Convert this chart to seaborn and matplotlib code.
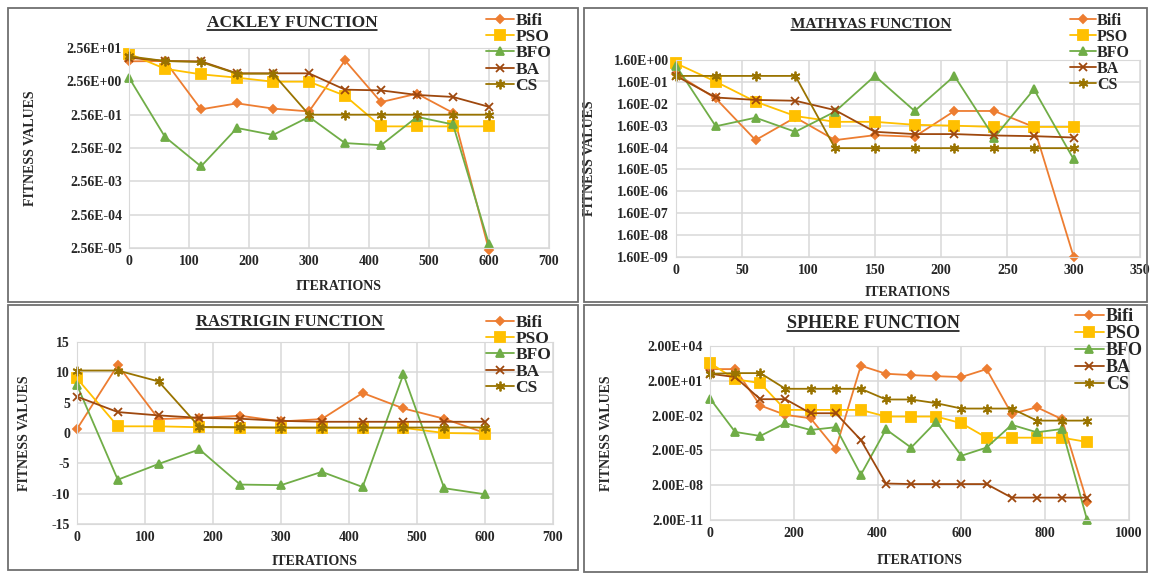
import matplotlib
matplotlib.use("Agg")
import matplotlib.pyplot as plt
import seaborn as sns
import numpy as np
from matplotlib.patches import Rectangle
from matplotlib.lines import Line2D
from matplotlib.ticker import FixedLocator, FixedFormatter, NullLocator

W, H = 1150, 574

algos = ['Bifi', 'PSO', 'BFO', 'BA', 'CS']
colors = ['#ED7D31', '#FFC000', '#70AD47', '#9E480E', '#997300']
markers = ['D', 's', '^', 'x', (6, 2, 0)]
msizes = [4.5, 6.5, 6, 6, 7]

# ---- Ackley ----
ackley_iter = [0, 60, 120, 180, 240, 300, 360, 420, 480, 540, 600]
ackley_bifi = [10.2, 10.4, 0.37, 0.56, 0.39, 0.32, 10.9, 0.61, 1.09, 0.29, 2.2e-5]
ackley_pso = [17.3, 6.1, 4.15, 3.3, 2.5, 2.5, 0.95, 0.114, 0.114, 0.114, 0.114]
ackley_bfo = [3.3, 0.055, 0.0072, 0.102, 0.063, 0.22, 0.036, 0.031, 0.22, 0.13, 3.3e-5]
ackley_ba = [13.1, 10.4, 10.2, 4.45, 4.45, 4.45, 1.44, 1.37, 1.0, 0.87, 0.44]
ackley_cs = [14.4, 10.4, 9.7, 4.35, 4.35, 0.256, 0.256, 0.256, 0.256, 0.256, 0.256]
ackley_yticks = [2.56e-5, 2.56e-4, 2.56e-3, 2.56e-2, 2.56e-1, 2.56e0, 2.56e1]
ackley_ylabels = ['2.56E-05', '2.56E-04', '2.56E-03', '2.56E-02', '2.56E-01', '2.56E+00', '2.56E+01']

# ---- Mathyas ----
mathyas_iter = [0, 30, 60, 90, 120, 150, 180, 210, 240, 270, 300]
mathyas_bifi = [0.37, 0.028, 3.5e-4, 3.8e-3, 3.5e-4, 5.9e-4, 5.0e-4, 7.5e-3, 7.5e-3, 1.4e-3, 1.6e-9]
mathyas_pso = [1.13, 0.164, 0.02, 4.4e-3, 2.4e-3, 2.4e-3, 1.75e-3, 1.6e-3, 1.4e-3, 1.4e-3, 1.4e-3]
mathyas_bfo = [0.88, 1.5e-3, 3.7e-3, 8.4e-4, 7e-3, 0.3, 7.5e-3, 0.3, 4.6e-4, 0.073, 4.6e-5]
mathyas_ba = [0.3, 0.031, 0.024, 0.022, 8.2e-3, 8.4e-4, 6.6e-4, 6.6e-4, 5.7e-4, 5.3e-4, 4.6e-4]
mathyas_cs = [0.3, 0.3, 0.3, 0.3, 1.5e-4, 1.5e-4, 1.5e-4, 1.5e-4, 1.5e-4, 1.5e-4, 1.5e-4]
mathyas_yticks = [1.6e-9, 1.6e-8, 1.6e-7, 1.6e-6, 1.6e-5, 1.6e-4, 1.6e-3, 1.6e-2, 1.6e-1, 1.6e0]
mathyas_ylabels = ['1.60E-09', '1.60E-08', '1.60E-07', '1.60E-06', '1.60E-05',
                   '1.60E-04', '1.60E-03', '1.60E-02', '1.60E-01', '1.60E+00']

# ---- Rastrigin ----
rastrigin_iter = [0, 60, 120, 180, 240, 300, 360, 420, 480, 540, 600]
rastrigin_bifi = [0.66, 11.2, 2.3, 2.5, 2.85, 1.9, 2.3, 6.6, 4.05, 2.35, 0.0]
rastrigin_pso = [9.0, 1.1, 1.1, 0.95, 0.9, 0.85, 0.85, 0.85, 0.85, 0.0, -0.1]
rastrigin_bfo = [7.9, -7.7, -5.1, -2.7, -8.5, -8.6, -6.4, -8.9, 9.7, -9.1, -10.1]
rastrigin_ba = [6.0, 3.45, 2.9, 2.5, 2.35, 2.0, 1.85, 1.85, 1.85, 1.85, 1.85]
rastrigin_cs = [10.3, 10.3, 8.5, 1.0, 0.95, 0.9, 0.9, 0.9, 0.9, 0.9, 0.9]
rastrigin_yticks = [-15, -10, -5, 0, 5, 10, 15]
rastrigin_ylabels = ['-15', '-10', '-5', '0', '5', '10', '15']

# ---- Sphere ----
sphere_iter = [0, 60, 120, 180, 240, 300, 360, 420, 480, 540, 600, 660, 720, 780, 840, 900]
sphere_bifi = [204, 204, 0.148, 0.023, 0.0118, 2.6e-5, 400, 81, 62, 50, 42, 204, 0.028, 0.105, 0.0098, 7.4e-10]
sphere_pso = [676, 27.6, 12.6, 0.062, 0.062, 0.062, 0.062, 0.0166, 0.0166, 0.0166, 0.0044,
              2.5e-4, 2.5e-4, 2.5e-4, 2.5e-4, 1.07e-4]
sphere_bfo = [0.59, 7.8e-4, 3.5e-4, 4.4e-3, 1.15e-3, 2e-3, 1.6e-7, 1.3e-3, 3.5e-5, 6e-3, 6.9e-6,
              3.5e-5, 3.2e-3, 7.3e-4, 1.4e-3, 2e-11]
sphere_ba = [81, 42, 0.52, 0.52, 0.032, 0.032, 1.6e-4, 2.8e-8, 2.5e-8, 2.5e-8, 2.5e-8, 2.5e-8,
             1.7e-9, 1.7e-9, 1.7e-9, 1.7e-9]
sphere_cs = [81, 92, 92, 4.1, 4.1, 4.1, 4.1, 0.49, 0.49, 0.235, 0.081, 0.081, 0.081, 0.0074, 0.0074, 0.0074]
sphere_yticks = [2e-11, 2e-8, 2e-5, 2e-2, 2e1, 2e4]
sphere_ylabels = ['2.00E-11', '2.00E-08', '2.00E-05', '2.00E-02', '2.00E+01', '2.00E+04']

sns.set_style("white")
plt.rcParams['font.family'] = ['Liberation Serif', 'DejaVu Serif']
plt.rcParams['font.weight'] = 'bold'

fig = plt.figure(figsize=(W / 100, H / 100), dpi=100)


def frac(l, t, r, b):
    return [l / W, 1 - b / H, (r - l) / W, (b - t) / H]


# panel frames (l, t, r, b) in pixels
frames = [(8, 8, 578, 302), (584, 8, 1147, 302), (8, 305, 578, 570), (584, 305, 1147, 572)]
for l, t, r, b in frames:
    fig.add_artist(Rectangle((l / W, 1 - b / H), (r - l) / W, (b - t) / H,
                             transform=fig.transFigure, fill=False,
                             edgecolor='#6f6f6f', linewidth=1.3))

panels = [
    dict(title='ACKLEY FUNCTION', tsize=12.5, tpos=(292, 23), rect=(129, 48, 549, 248),
         x=ackley_iter, ys=[ackley_bifi, ackley_pso, ackley_bfo, ackley_ba, ackley_cs],
         log=True, yticks=ackley_yticks, ylabels=ackley_ylabels, xlim=(0, 700), xstep=100,
         ylab_x=37, xlab_y=280, leg=(486, 13), lsize=12.5),
    dict(title='MATHYAS FUNCTION', tsize=11, tpos=(871, 24), rect=(676, 60, 1140, 257),
         x=mathyas_iter, ys=[mathyas_bifi, mathyas_pso, mathyas_bfo, mathyas_ba, mathyas_cs],
         log=True, yticks=mathyas_yticks, ylabels=mathyas_ylabels, xlim=(0, 350), xstep=50,
         ylab_x=596, xlab_y=286, leg=(1070, 13), lsize=11.5),
    dict(title='RASTRIGIN FUNCTION', tsize=12, tpos=(290, 322), rect=(77, 342, 553, 524),
         x=rastrigin_iter, ys=[rastrigin_bifi, rastrigin_pso, rastrigin_bfo, rastrigin_ba, rastrigin_cs],
         log=False, yticks=rastrigin_yticks, ylabels=rastrigin_ylabels, xlim=(0, 700), xstep=100,
         ylab_x=31, xlab_y=555, leg=(486, 315), lsize=12.5),
    dict(title='SPHERE FUNCTION', tsize=13, tpos=(873, 323), rect=(710, 346, 1129, 520),
         x=sphere_iter, ys=[sphere_bifi, sphere_pso, sphere_bfo, sphere_ba, sphere_cs],
         log=True, yticks=sphere_yticks, ylabels=sphere_ylabels, xlim=(0, 1000), xstep=200,
         ylab_x=613, xlab_y=554, leg=(1075, 308), lsize=13),
]

titles = []
for p in panels:
    l, t, r, b = p['rect']
    ax = fig.add_axes(frac(l, t, r, b))
    for name, vals, c, m, ms in zip(algos, p['ys'], colors, markers, msizes):
        sns.lineplot(x=p['x'], y=vals, ax=ax, color=c, marker=m, markersize=ms,
                     markeredgecolor=c, markeredgewidth=1.3, linewidth=1.3,
                     label=name, clip_on=False)
    if p['log']:
        ax.set_yscale('log')
    ax.set_ylim(p['yticks'][0], p['yticks'][-1])
    ax.yaxis.set_major_locator(FixedLocator(p['yticks']))
    ax.yaxis.set_major_formatter(FixedFormatter(p['ylabels']))
    ax.yaxis.set_minor_locator(NullLocator())
    ax.set_xlim(*p['xlim'])
    ax.set_xticks(np.arange(p['xlim'][0], p['xlim'][1] + 1, p['xstep']))
    ax.grid(True, color='#d9d9d9', linewidth=1.1)
    ax.set_axisbelow(True)
    for s in ax.spines.values():
        s.set_color('#d9d9d9')
    ax.tick_params(length=0, labelsize=10, pad=5)
    for lab in ax.get_xticklabels() + ax.get_yticklabels():
        lab.set_fontweight('bold')

    ax.set_xlabel('ITERATIONS', fontsize=10, fontweight='bold')
    ax.xaxis.set_label_coords(0.5, -(p['xlab_y'] - b) / (b - t))
    ax.set_ylabel('FITNESS VALUES', fontsize=10, fontweight='bold')
    ax.yaxis.set_label_coords((p['ylab_x'] - l) / (r - l), 0.5)

    handles, labels = ax.get_legend_handles_labels()
    lx, ly = p['leg']
    ax.legend(handles, labels, loc='upper left', bbox_to_anchor=(lx / W, 1 - ly / H),
              bbox_transform=fig.transFigure, frameon=False,
              prop=dict(family='Liberation Serif', weight='bold', size=p['lsize']),
              handlelength=1.6, handletextpad=0.1, labelspacing=0.0,
              borderpad=0, borderaxespad=0)

    tx, ty = p['tpos']
    titles.append(fig.text(tx / W, 1 - ty / H, p['title'], ha='center', va='center',
                           fontsize=p['tsize'], fontweight='bold'))

# underline the titles
fig.canvas.draw()
for tt in titles:
    bb = tt.get_window_extent()
    y = (bb.y0 + 1) / H
    fig.add_artist(Line2D([bb.x0 / W, bb.x1 / W], [y, y], transform=fig.transFigure,
                          color='black', linewidth=1.1))

fig.savefig('out.png', dpi=100)
